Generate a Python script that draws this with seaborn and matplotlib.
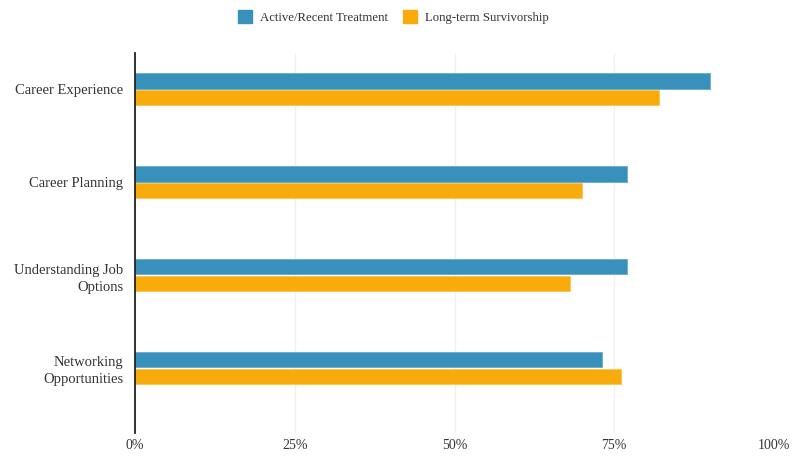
import matplotlib
matplotlib.use("Agg")
import matplotlib.pyplot as plt
import seaborn as sns
import pandas as pd
from matplotlib.patches import Patch

categories = ["Career Experience", "Career Planning", "Understanding Job\nOptions", "Networking\nOpportunities"]
series_names = ["Active/Recent Treatment", "Long-term Survivorship"]
active_recent = [90, 77, 77, 73]
long_term = [82, 70, 68, 76]
x_ticks = [0, 25, 50, 75, 100]
x_tick_labels = ["0%", "25%", "50%", "75%", "100%"]
colors = ["#3891BA", "#FAAB0C"]
edge_colors = ["#6DB0D0", "#FCC656"]

df = pd.DataFrame({
    "category": categories * 2,
    "value": active_recent + long_term,
    "series": [series_names[0]] * len(categories) + [series_names[1]] * len(categories),
})

sns.set_theme(style="white")
plt.rcParams["font.family"] = ["Liberation Serif", "DejaVu Serif"]

fig = plt.figure(figsize=(8, 4.61), dpi=100)
ax = fig.add_axes([0.169, 0.0607, 0.9675 - 0.169, 0.885 - 0.0607])

sns.barplot(data=df, y="category", x="value", hue="series", orient="h",
            order=categories, hue_order=series_names, palette=colors,
            width=0.355, gap=0.07, ax=ax, legend=False, errorbar=None,
            linewidth=0.7, saturation=1)

for i, container in enumerate(ax.containers):
    for bar in container:
        bar.set_edgecolor(edge_colors[i])

ax.set_xlim(0, 100)
ax.set_ylim(3.70, -0.39)
ax.set_xticks(x_ticks)
ax.set_xticklabels(x_tick_labels)
ax.set_xlabel("")
ax.set_ylabel("")
ax.grid(axis="x", color="#F1F1F1", linewidth=1)
ax.set_axisbelow(True)
for s in ["top", "right", "bottom"]:
    ax.spines[s].set_visible(False)
ax.spines["left"].set_color("#222222")
ax.spines["left"].set_linewidth(1.3)
ax.spines["left"].set_zorder(5)

ax.tick_params(axis="y", length=0, pad=8.5, labelsize=10.5, labelcolor="#333333")
ax.tick_params(axis="x", length=0, pad=4, labelsize=10, labelcolor="#333333")
for lbl in ax.get_yticklabels():
    lbl.set_horizontalalignment("right")
    lbl.set_linespacing(1.4)

handles = [Patch(facecolor=colors[0], edgecolor=colors[0]),
           Patch(facecolor=colors[1], edgecolor=colors[1])]
fig.legend(handles, series_names, loc="center", bbox_to_anchor=(0.492, 0.963),
           ncol=2, frameon=False, handlelength=1.1, handleheight=1.1,
           handletextpad=0.6, columnspacing=1.2, fontsize=9.2,
           labelcolor="#333333")

fig.savefig("out.png", dpi=100)
